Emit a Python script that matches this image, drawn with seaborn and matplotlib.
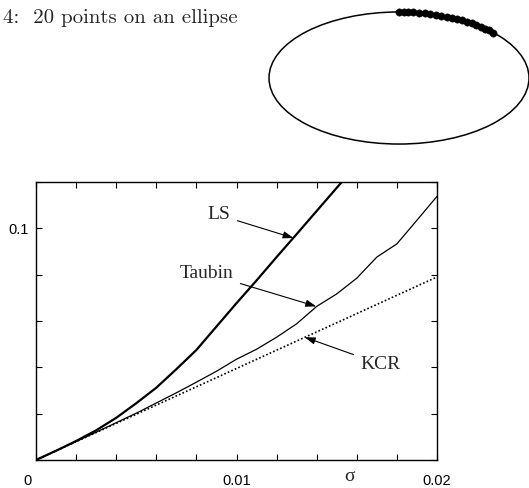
import numpy as np
import pandas as pd
import matplotlib
matplotlib.use("Agg")
import matplotlib.pyplot as plt
import matplotlib.transforms as mtransforms
from matplotlib.patches import Ellipse
import seaborn as sns

# ---- data ----
sigma = [0.0, 0.001, 0.002, 0.003, 0.004, 0.005, 0.006, 0.007, 0.008, 0.009, 0.010,
         0.011, 0.012, 0.013, 0.014, 0.015, 0.016, 0.017, 0.018, 0.019, 0.020]
ls_err = [0.0, 0.0040, 0.0082, 0.0128, 0.0182, 0.0245, 0.0312, 0.0392, 0.0475, 0.0576, 0.0677,
          0.0775, 0.0876, 0.0975, 0.1075, 0.1175, 0.1275, None, None, None, None]
taubin_err = [0.0, 0.0040, 0.0080, 0.0120, 0.0161, 0.0202, 0.0246, 0.0290, 0.0336, 0.0383, 0.0435,
              0.0478, 0.0530, 0.0588, 0.0663, 0.0717, 0.0785, 0.0876, 0.0933, 0.1035, 0.1138]
kcr_sigma = [0.0, 0.020]
kcr_err = [0.0, 0.079]

x_ticks = [0, 0.002, 0.004, 0.006, 0.008, 0.010, 0.012, 0.014, 0.016, 0.018, 0.020]
x_tick_labels = ["0", "", "", "", "", "0.01", "", "", "", "", "0.02"]
y_ticks = [0, 0.02, 0.04, 0.06, 0.08, 0.10, 0.12]
y_tick_labels = ["", "", "", "", "", "0.1", ""]

# ellipse inset: semi-axes and angles (deg) of the 20 data points
ell_a, ell_b = 1.0, 0.508
point_angles = [90, 88, 86, 84, 81, 78.5, 76, 73.5, 71, 68.5, 66, 63.5, 61, 58.5,
                56, 53.5, 51, 48.5, 46, 43.5]

title_text = "4:  20 points on an ellipse"

# ---- figure ----
sns.set_theme(style="white")
plt.rcParams['font.family'] = ['Liberation Sans', 'DejaVu Sans']

W, H = 529, 488
fig = plt.figure(figsize=(W / 100, H / 100), dpi=100)

def px_axes(x0, y0, x1, y1):
    return fig.add_axes([x0 / W, 1 - y1 / H, (x1 - x0) / W, (y1 - y0) / H])

ax = px_axes(36, 182, 437, 460)

df_ls = pd.DataFrame({"sigma": sigma, "err": ls_err}).dropna()
df_tau = pd.DataFrame({"sigma": sigma, "err": taubin_err})
df_kcr = pd.DataFrame({"sigma": kcr_sigma, "err": kcr_err})

sns.lineplot(data=df_ls, x="sigma", y="err", ax=ax, color="black", lw=1.6, sort=False)
sns.lineplot(data=df_tau, x="sigma", y="err", ax=ax, color="black", lw=0.9, sort=False)
sns.lineplot(data=df_kcr, x="sigma", y="err", ax=ax, color="black", lw=1.2,
             linestyle=(0, (1, 1.3)), sort=False)

ax.set_xlim(0, 0.02)
ax.set_ylim(0, 0.12)
ax.set_xticks(x_ticks)
ax.set_xticklabels(x_tick_labels)
ax.set_yticks(y_ticks)
ax.set_yticklabels(y_tick_labels)
ax.tick_params(direction="in", length=4, width=0.8, top=True, right=True,
               bottom=True, left=True, labelsize=10.5, colors="black")
ax.tick_params(axis="x", pad=10)
ax.tick_params(axis="y", pad=5)
for sp in ax.spines.values():
    sp.set_color("black")
    sp.set_linewidth(1.0)
ax.set_ylabel("")
ax.set_xlabel("σ", family=["Liberation Serif", "DejaVu Serif"], fontsize=14)
ax.xaxis.set_label_coords(0.783, -0.061)
ax.xaxis.label.set_va("center")

# shift the "0" label slightly left as in the reference
lbl0 = ax.get_xticklabels()[0]
lbl0.set_transform(lbl0.get_transform() + mtransforms.ScaledTranslation(-8 / 100, 0, fig.dpi_scale_trans))

serif = ["Liberation Serif", "DejaVu Serif"]
arrow = dict(arrowstyle="-|>,head_length=0.45,head_width=0.15", color="black", lw=0.8,
             shrinkA=3, shrinkB=0)
ax.annotate("LS", xy=(0.01285, 0.0958), xytext=(0.00968, 0.1058), fontsize=14,
            family=serif, ha="right", va="center", arrowprops=arrow)
ax.annotate("Taubin", xy=(0.01398, 0.0663), xytext=(0.00983, 0.0806), fontsize=14,
            family=serif, ha="right", va="center", arrowprops=arrow)
ax.annotate("KCR", xy=(0.0134, 0.0530), xytext=(0.0162, 0.0413), fontsize=14,
            family=serif, ha="left", va="center", arrowprops=arrow)

# ---- ellipse inset ----
ax2 = px_axes(262, 6, 529, 150)
ax2.set_xlim(-137 / 130, 1.0)
ax2.set_ylim(-72 / 130, 72 / 130)
ax2.set_aspect("equal")
ax2.axis("off")
ax2.add_patch(Ellipse((0, 0), 2 * ell_a, 2 * ell_b, fill=False, ec="black", lw=1.1))
th = np.deg2rad(point_angles)
pts = pd.DataFrame({"x": ell_a * np.cos(th), "y": ell_b * np.sin(th)})
sns.scatterplot(data=pts, x="x", y="y", ax=ax2, color="black", s=28, edgecolor="black",
                linewidth=0.3, zorder=3)
ax2.set_xlabel("")
ax2.set_ylabel("")

fig.text(3 / W, 1 - 18 / H, title_text, family=["cmr10", "DejaVu Serif"], fontsize=15,
         ha="left", va="center")

fig.savefig("out.png", dpi=100)
